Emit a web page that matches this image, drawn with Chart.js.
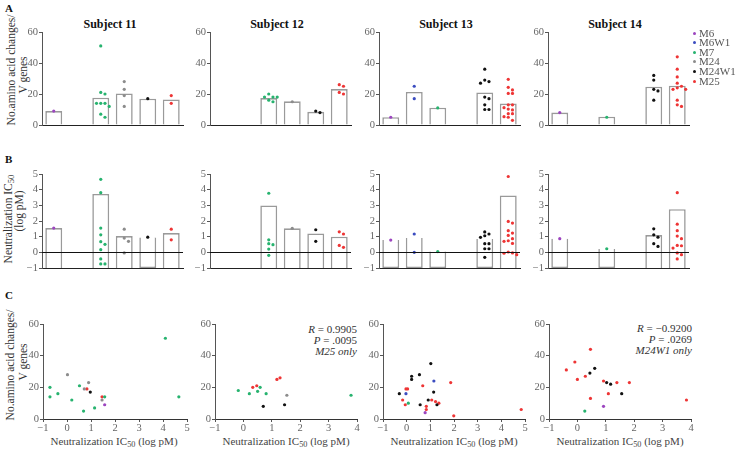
<!DOCTYPE html>
<html>
<head>
<meta charset="utf-8">
<script src="https://cdn.jsdelivr.net/npm/chart.js@4.4.1/dist/chart.umd.min.js"></script>
<style>
  body { margin: 0; width: 737px; height: 449px; position: relative; overflow: hidden; background: #fff;
         font-family: "Liberation Serif", "DejaVu Serif", serif; color: #222; }
  canvas { position: absolute; }
  .t { position: absolute; white-space: nowrap; transform: translate(-50%, -50%); }
  .rot { transform: translate(-50%, -50%) rotate(-90deg); font-size: 11.5px; color: #333; }
  .ttl { font-weight: bold; font-size: 12px; color: #111; }
  .lt { position: absolute; font-weight: bold; font-size: 11px; color: #111; }
  .xt { font-size: 11px; color: #444; }
  sub { font-size: 75%; vertical-align: -2px; line-height: 0; }
  .ann { position: absolute; text-align: right; font-size: 11px; line-height: 11px; color: #333; }
  .leg { position: absolute; font-size: 11px; color: #555; line-height: 10px; }
  .dot { position: absolute; width: 3px; height: 3px; border-radius: 50%; }
</style>
</head>
<body>
<div class="lt" style="left:5px;top:2px">A</div>
<div class="lt" style="left:5px;top:153px">B</div>
<div class="lt" style="left:5px;top:289px">C</div>

<div class="t ttl" style="left:110px;top:24px">Subject 11</div>
<div class="t ttl" style="left:277px;top:24px">Subject 12</div>
<div class="t ttl" style="left:446px;top:24px">Subject 13</div>
<div class="t ttl" style="left:615px;top:24px">Subject 14</div>

<div class="t rot" style="left:11px;top:70px">No.amino acid changes/</div>
<div class="t rot" style="left:23px;top:75px">V genes</div>
<div class="t rot" style="left:8px;top:219px">Neutralization IC<sub>50</sub></div>
<div class="t rot" style="left:19px;top:211px">(log pM)</div>
<div class="t rot" style="left:10px;top:365px">No.amino acid changes/</div>
<div class="t rot" style="left:23px;top:362px">V genes</div>

<div class="t xt" style="left:114px;top:441px">Neutralization IC<sub>50</sub> (log pM)</div>
<div class="t xt" style="left:286px;top:441px">Neutralization IC<sub>50</sub> (log pM)</div>
<div class="t xt" style="left:454px;top:441px">Neutralization IC<sub>50</sub> (log pM)</div>
<div class="t xt" style="left:620px;top:441px">Neutralization IC<sub>50</sub> (log pM)</div>

<div class="ann" style="right:380px;top:324px"><i>R</i> = 0.9905<br><i>P</i> = .0095<br><i>M25 only</i></div>
<div class="ann" style="right:45px;top:323px"><i>R</i> = −0.9200<br><i>P</i> = .0269<br><i>M24W1 only</i></div>

<script>
const SERIF = '"Liberation Serif", "DejaVu Serif", serif';
const CATS = ['M6', 'M6W1', 'M7', 'M24', 'M24W1', 'M25'];
const COLORS = { M6: '#9c45bf', M6W1: '#3b4cc0', M7: '#27b36f', M24: '#8c8c8c', M24W1: '#111111', M25: '#ee3535' };

// row A: amino acid changes per V gene (bar = mean, dots = individual antibodies)
const mutBars11 = [9, null, 17.6, 20.4, 17, 16.5];
const mutDots11 = { M6: [9], M7: [51, 21, 20, 14, 14, 14, 12, 7, 5], M24: [28, 23, 19, 12], M24W1: [17], M25: [19, 14] };
const mutBars12 = [null, null, 17.4, 15.3, 8.5, 23.2];
const mutDots12 = { M7: [20, 18, 18, 18, 16, 15], M24: [15], M24W1: [9, 8], M25: [26, 25, 21, 20] };
const mutBars13 = [5, 21.3, 11.2, null, 21, 13.8];
const mutDots13 = { M6: [5], M6W1: [25, 17], M7: [11], M24W1: [36, 29, 28, 27, 18, 17, 13, 10, 10],
                    M25: [29.5, 24.3, 22.6, 20.4, 20.4, 13, 13, 11.2, 10.3, 9.7, 7.3, 7.3, 5.4, 5, 3] };
const mutBars14 = [8, null, 5.4, null, 24.7, 25.4];
const mutDots14 = { M6: [8], M7: [5], M24W1: [32, 29, 23, 22, 16], M25: [44, 36, 31, 27, 25, 24, 23, 23, 16, 13, 12] };

// row B: neutralization IC50 (log pM)
const icBars11 = [1.55, null, 3.73, 1.04, 0.95, 1.23];
const icDots11 = { M6: [1.55], M7: [4.66, 3.81, 1.55, 1.12, 0.68, 0.51, 0.17, -0.42, -0.74, -0.74],
                   M24: [1.48, 0.91, 0.7, -0.04], M24W1: [0.97], M25: [1.48, 0.8] };
const icBars12 = [null, null, 2.99, 1.53, 1.21, 1.0];
const icDots12 = { M7: [3.77, 0.8, 0.55, 0.49, 0.21, -0.19], M24: [1.53], M24W1: [1.44, 0.7], M25: [1.31, 1.17, 0.44, 0.32] };
const icBars13 = [0.78, 0.91, 0.06, null, 0.85, 3.63];
const icDots13 = { M6: [0.78], M6W1: [1.17, 0.0], M7: [0.05], M24W1: [1.3, 1.17, 1.06, 0.96, 0.55, 0.55, 0.23, 0.23, -0.32],
                   M25: [4.84, 1.97, 1.87, 1.38, 1.23, 1.08, 0.87, 0.74, 0.7, 0.57, 0.02, -0.04, -0.06, -0.15] };
const icBars14 = [0.87, null, 0.21, null, 1.1, 2.75];
const icDots14 = { M6: [0.87], M7: [0.23], M24W1: [1.5, 1.12, 0.97, 0.55, 0.38],
                   M25: [3.81, 1.8, 1.38, 1.04, 0.87, 0.44, 0.42, 0.27, -0.04, -0.15, -0.42] };

// row C: [log IC50, aa changes, timepoint]
const scat11 = [[-0.71, 20, 'M7'], [-0.71, 14, 'M7'], [-0.38, 16, 'M7'], [0.2, 12, 'M7'], [0.52, 21, 'M7'], [0.69, 5, 'M7'],
                [1.15, 7, 'M7'], [1.57, 14, 'M7'], [4.1, 51, 'M7'], [4.66, 14, 'M7'],
                [0.02, 28, 'M24'], [0.9, 23, 'M24'], [0.72, 19, 'M24'], [1.46, 12, 'M24'],
                [0.83, 19, 'M25'], [1.46, 14, 'M25'], [0.97, 17, 'M24W1'], [1.57, 9, 'M6']];
const scat12 = [[-0.18, 18, 'M7'], [0.21, 16, 'M7'], [0.5, 17.5, 'M7'], [0.59, 20, 'M7'], [0.8, 16, 'M7'], [3.79, 15, 'M7'],
                [0.33, 20, 'M25'], [0.47, 21, 'M25'], [1.18, 25, 'M25'], [1.29, 26, 'M25'],
                [0.7, 8, 'M24W1'], [1.45, 9, 'M24W1'], [1.53, 15, 'M24']];
const scat13 = [[1.02, 35, 'M24W1'], [0.21, 27, 'M24W1'], [0.21, 25, 'M24W1'], [0.54, 28, 'M24W1'], [-0.31, 16, 'M24W1'],
                [1.14, 17, 'M24W1'], [0.91, 12, 'M24W1'], [0.57, 9, 'M24W1'], [1.28, 9, 'M24W1'],
                [-0.03, 19, 'M25'], [0.04, 19, 'M25'], [0.68, 21, 'M25'], [1.86, 23, 'M25'], [-0.17, 12, 'M25'],
                [-0.06, 9, 'M25'], [0.83, 8, 'M25'], [0.83, 6, 'M25'], [1.06, 12, 'M25'], [1.22, 11, 'M25'],
                [1.36, 10, 'M25'], [1.99, 2, 'M25'], [4.84, 6, 'M25'],
                [1.15, 24, 'M6W1'], [-0.03, 16, 'M6W1'], [0.07, 10, 'M7'], [0.78, 4, 'M6']];
const scat14 = [[-0.39, 31, 'M25'], [-0.09, 36, 'M25'], [0, 25, 'M25'], [0.28, 27, 'M25'], [0.46, 44, 'M25'], [0.46, 13, 'M25'],
                [0.92, 24, 'M25'], [1.09, 16, 'M25'], [1.39, 23, 'M25'], [1.83, 23, 'M25'], [3.84, 12, 'M25'],
                [0.44, 29, 'M24W1'], [0.61, 32, 'M24W1'], [1.03, 23, 'M24W1'], [1.17, 22, 'M24W1'], [1.56, 16, 'M24W1'],
                [0.26, 5, 'M7'], [0.92, 8, 'M6']];

// layout
const YW = 30, PT = 10, PR = 10;
const colsAB = [42, 210, 379, 548], WAB = 141;
const colsC = [[43, 187], [215, 357], [383, 525], [549, 691]];
const STEP = 0.18;

function place(left, right, top, bottom, xh, pb) {
  const c = document.createElement('canvas');
  c.width = YW + (right - left) + PR;
  c.height = PT + (bottom - top) + xh + pb;
  c.style.left = (left - YW) + 'px';
  c.style.top = (top - PT) + 'px';
  document.body.appendChild(c);
  return c;
}

const minus = v => (v < 0 ? '\u2212' + Math.abs(v) : '' + v);

function yAxis(min, max, step) {
  return {
    min, max,
    border: { display: true, color: '#555', width: 1 },
    grid: { display: true, drawOnChartArea: false, tickLength: 3, color: '#555' },
    ticks: { stepSize: step, padding: 1, color: '#666', font: { family: SERIF, size: 10.5 }, callback: minus },
    afterFit: s => { s.width = YW; }
  };
}

// simple beeswarm so overlapping dots spread sideways
function swarm(vals, tol) {
  const offs = [0, 1, -1, 2, -2, 3, -3];
  const placed = [];
  return vals.map(v => {
    const o = offs.find(k => !placed.some(p => p.o === k && Math.abs(p.v - v) < tol));
    placed.push({ o, v });
    return { o, v };
  });
}

const zeroLine = {
  id: 'zeroLine',
  afterDatasetsDraw(chart) {
    const { ctx, chartArea, scales } = chart;
    const y = Math.round(scales.y.getPixelForValue(0)) + 0.5;
    ctx.save();
    ctx.strokeStyle = '#111';
    ctx.lineWidth = 1;
    ctx.beginPath();
    ctx.moveTo(chartArea.left, y);
    ctx.lineTo(chartArea.right, y);
    ctx.stroke();
    ctx.restore();
  }
};

function barPanel(canvas, bars, dots, yMin, yMax, step, floating, tol) {
  const datasets = [{
    type: 'bar',
    data: bars.map((v, i) => (v == null ? null : { x: i, y: floating ? [yMin, v] : v })).filter(d => d),
    backgroundColor: '#ffffff',
    borderColor: '#9a9a9a',
    borderWidth: 1.6,
    order: 2
  }];
  CATS.forEach((cat, i) => {
    if (!dots[cat]) return;
    datasets.push({
      type: 'scatter',
      data: swarm(dots[cat], tol).map(p => ({ x: i + p.o * STEP, y: p.v })),
      backgroundColor: COLORS[cat],
      pointRadius: 1.6,
      borderWidth: 0,
      order: 1
    });
  });
  new Chart(canvas, {
    type: 'bar',
    data: { datasets },
    plugins: floating ? [zeroLine] : [],
    options: {
      responsive: false, animation: false, events: [],
      layout: { padding: { left: 0, top: PT, right: PR, bottom: 8 } },
      plugins: { legend: { display: false }, tooltip: { enabled: false } },
      scales: {
        x: {
          type: 'linear', min: -0.5, max: 5.5, offset: false,
          afterBuildTicks: s => { s.ticks = CATS.map((c, i) => ({ value: i })); },
          ticks: { display: false },
          grid: { display: false },
          border: { display: true, color: '#222', width: 1 },
          afterFit: s => { s.height = 1; }
        },
        y: yAxis(yMin, yMax, step)
      }
    }
  });
}

function scatterPanel(canvas, pts, xMax) {
  const datasets = CATS.map(cat => ({
    data: pts.filter(p => p[2] === cat).map(p => ({ x: p[0], y: p[1] })),
    backgroundColor: COLORS[cat],
    pointRadius: 1.6,
    borderWidth: 0
  })).filter(d => d.data.length);
  new Chart(canvas, {
    type: 'scatter',
    data: { datasets },
    options: {
      responsive: false, animation: false, events: [],
      layout: { padding: { left: 0, top: PT, right: PR, bottom: 2 } },
      plugins: { legend: { display: false }, tooltip: { enabled: false } },
      scales: {
        x: {
          min: -1, max: xMax,
          border: { display: true, color: '#333', width: 1 },
          grid: { display: true, drawOnChartArea: false, tickLength: 3, color: '#555' },
          ticks: { stepSize: 1, padding: 0, color: '#666', font: { family: SERIF, size: 10.5 }, callback: minus },
          afterFit: s => { s.height = 16; }
        },
        y: yAxis(0, 60, 20)
      }
    }
  });
}

const mutBars = [mutBars11, mutBars12, mutBars13, mutBars14];
const mutDots = [mutDots11, mutDots12, mutDots13, mutDots14];
const icBars = [icBars11, icBars12, icBars13, icBars14];
const icDots = [icDots11, icDots12, icDots13, icDots14];
const scats = [scat11, scat12, scat13, scat14];
const scatMax = [5, 4, 5, 4];

colsAB.forEach((left, k) => {
  barPanel(place(left, left + WAB, 32, 125, 1, 8), mutBars[k], mutDots[k], 0, 60, 20, false, 2.2);
  barPanel(place(left, left + WAB, 174, 268, 1, 8), icBars[k], icDots[k], -1, 5, 1, true, 0.22);
});
colsC.forEach(([l, r], k) => {
  scatterPanel(place(l, r, 324, 419, 16, 2), scats[k], scatMax[k]);
});

// legend
CATS.forEach((cat, i) => {
  const y = 33 + i * 9.6;
  const d = document.createElement('div');
  d.className = 'dot';
  d.style.left = '693px'; d.style.top = (y - 1.5) + 'px'; d.style.background = COLORS[cat];
  document.body.appendChild(d);
  const t = document.createElement('div');
  t.className = 'leg';
  t.style.left = '699px'; t.style.top = (y - 5.5) + 'px';
  t.textContent = cat;
  document.body.appendChild(t);
});
</script>
</body>
</html>
